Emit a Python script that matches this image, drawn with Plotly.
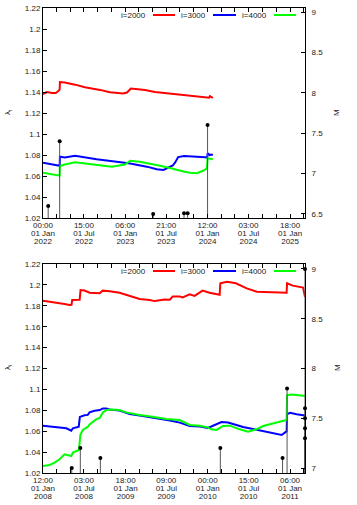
import pandas as pd
import plotly.graph_objects as go

# ---------------- data: top panel (2022-2024) ----------------
top_red_dates = ["2022-01-01", "2022-01-18", "2022-02-10", "2022-02-27", "2022-03-13", "2022-03-16",
                 "2022-03-17", "2022-04-08", "2022-05-23", "2022-07-06", "2022-09-11", "2022-10-25",
                 "2022-12-22", "2023-01-09", "2023-01-26", "2023-03-30", "2023-05-13", "2023-06-26",
                 "2023-08-10", "2023-09-23", "2023-11-07", "2023-12-21", "2024-01-08", "2024-01-12",
                 "2024-01-17", "2024-01-25"]
top_red_vals = [1.138, 1.140, 1.139, 1.139, 1.1415, 1.1425,
                1.1495, 1.149, 1.147, 1.1445, 1.142, 1.1398,
                1.1385, 1.1395, 1.1433, 1.142, 1.140, 1.139,
                1.138, 1.1368, 1.1362, 1.1345, 1.1345, 1.136,
                1.1355, 1.1345]

top_blue_dates = ["2022-01-01", "2022-02-10", "2022-03-16", "2022-03-17", "2022-04-08", "2022-05-23",
                  "2022-08-27", "2022-11-24", "2023-01-23", "2023-04-07", "2023-05-21", "2023-06-20",
                  "2023-07-18", "2023-07-31", "2023-08-10", "2023-08-24", "2023-09-19", "2023-10-15",
                  "2023-11-15", "2023-12-21", "2023-12-31", "2024-01-01 12:00", "2024-01-11", "2024-01-17",
                  "2024-01-25"]
top_blue_vals = [1.0727, 1.0712, 1.0698, 1.0784, 1.0776, 1.0793,
                 1.0759, 1.0736, 1.0720, 1.0689, 1.0664, 1.0657,
                 1.0683, 1.0700, 1.0727, 1.0780, 1.0790, 1.0790,
                 1.0784, 1.0778, 1.0775, 1.0815, 1.0800, 1.0805,
                 1.0800]

top_green_dates = ["2022-01-01", "2022-02-10", "2022-03-16", "2022-03-17", "2022-04-08", "2022-05-23",
                   "2022-07-28", "2022-10-03", "2022-11-03", "2022-12-31", "2023-01-23", "2023-03-06",
                   "2023-04-21", "2023-06-04", "2023-07-18", "2023-08-31", "2023-09-21", "2023-10-15",
                   "2023-11-15", "2023-12-12", "2023-12-30", "2024-01-01 12:00", "2024-01-25"]
top_green_vals = [1.0632, 1.0617, 1.0603, 1.0695, 1.0710, 1.0730,
                  1.0714, 1.0695, 1.0688, 1.0710, 1.0746, 1.0736,
                  1.0718, 1.0698, 1.0676, 1.0657, 1.0641, 1.0630,
                  1.0626, 1.0650, 1.0673, 1.0768, 1.0759]

top_event_dates = ["2022-01-24", "2022-03-16", "2023-05-05", "2023-09-19", "2023-10-05", "2024-01-01 12:00"]
top_event_M = [6.60, 7.40, 6.50, 6.51, 6.51, 7.60]

top_tick_dates = ["2022-01-01 00:00", "2022-07-01 15:00", "2023-01-01 06:00", "2023-07-01 21:00",
                  "2024-01-01 12:00", "2024-07-01 03:00", "2025-01-01 18:00"]
top_tick_time = ["00:00", "15:00", "06:00", "21:00", "12:00", "03:00", "18:00"]
top_tick_day = ["01 Jan", "01 Jul", "01 Jan", "01 Jul", "01 Jan", "01 Jul", "01 Jan"]
top_tick_year = ["2022", "2022", "2023", "2023", "2024", "2024", "2025"]
top_x_range = ["2022-01-01 00:00", "2025-03-09 00:00"]

# ---------------- data: bottom panel (2008-2011) ----------------
bot_red_dates = ["2008-01-01", "2008-01-31", "2008-03-15", "2008-04-06", "2008-04-28", "2008-05-07",
                 "2008-05-10", "2008-06-12", "2008-06-16", "2008-07-04", "2008-07-26", "2008-09-09",
                 "2008-09-22", "2008-10-23", "2008-12-06", "2009-01-20", "2009-03-05", "2009-04-19",
                 "2009-05-11", "2009-06-24", "2009-07-17", "2009-07-30", "2009-08-30", "2009-09-12",
                 "2009-10-13", "2009-11-04", "2009-12-09", "2010-01-09", "2010-02-23", "2010-02-26",
                 "2010-03-28", "2010-05-06", "2010-06-23", "2010-08-07", "2010-09-20", "2010-11-04",
                 "2010-12-17", "2010-12-19", "2011-01-13", "2011-02-28", "2011-03-08 12:00"]
bot_red_vals = [1.1849, 1.1840, 1.1830, 1.1817, 1.1808, 1.1810,
                1.1856, 1.1858, 1.1950, 1.1946, 1.1925, 1.1920,
                1.1945, 1.1940, 1.1925, 1.1894, 1.1865, 1.1856,
                1.1845, 1.1860, 1.1858, 1.1890, 1.1890, 1.1880,
                1.1910, 1.1895, 1.1945, 1.1925, 1.1905, 1.2015,
                1.2030, 1.2016, 1.1967, 1.1935, 1.1930, 1.1925,
                1.1925, 1.2015, 1.1993, 1.1974, 1.1884]

bot_blue_dates = ["2008-01-01", "2008-03-01", "2008-04-14", "2008-05-06", "2008-05-13", "2008-06-08",
                  "2008-06-13", "2008-07-04", "2008-07-18", "2008-07-26", "2008-08-17", "2008-09-09",
                  "2008-09-23", "2008-10-08", "2008-10-23", "2008-12-06", "2009-01-20", "2009-03-05",
                  "2009-04-19", "2009-06-02", "2009-07-17", "2009-08-30", "2009-10-13", "2009-11-27",
                  "2010-01-01", "2010-01-17", "2010-02-09", "2010-03-03", "2010-04-01", "2010-05-01",
                  "2010-06-07", "2010-07-21", "2010-09-04", "2010-10-04", "2010-11-03", "2010-11-25",
                  "2010-12-09", "2010-12-17", "2010-12-19", "2011-01-01", "2011-01-30", "2011-02-28",
                  "2011-03-08 12:00"]
bot_blue_vals = [1.0653, 1.0637, 1.0628, 1.0605, 1.0628, 1.0643,
                 1.0737, 1.0752, 1.0756, 1.0780, 1.0796, 1.0802,
                 1.0818, 1.0818, 1.0808, 1.0797, 1.0765, 1.0750,
                 1.0734, 1.0721, 1.0702, 1.0682, 1.0650, 1.0645,
                 1.0631, 1.0645, 1.0669, 1.0688, 1.0684, 1.0662,
                 1.0640, 1.0621, 1.0599, 1.0583, 1.0573, 1.0564,
                 1.0586, 1.0598, 1.0762, 1.0777, 1.0762, 1.0750,
                 1.0750]

bot_green_dates = ["2008-01-01", "2008-01-31", "2008-02-22", "2008-03-15", "2008-04-06", "2008-04-21",
                   "2008-05-06", "2008-05-13", "2008-06-09", "2008-06-15", "2008-06-26", "2008-07-19",
                   "2008-07-26", "2008-08-24", "2008-09-09", "2008-09-23", "2008-10-08", "2008-10-23",
                   "2008-12-06", "2009-01-04", "2009-03-05", "2009-05-01", "2009-06-30", "2009-08-30",
                   "2009-10-13", "2009-11-27", "2010-01-01", "2010-01-17", "2010-02-09", "2010-03-10",
                   "2010-04-09", "2010-05-23", "2010-06-29", "2010-08-05", "2010-09-04", "2010-10-04",
                   "2010-11-03", "2010-12-09", "2010-12-17", "2010-12-19", "2011-01-08", "2011-02-28",
                   "2011-03-08 12:00"]
bot_green_vals = [1.0267, 1.0277, 1.0299, 1.0331, 1.0379, 1.0373,
                  1.0363, 1.0395, 1.0420, 1.0564, 1.0612, 1.0643,
                  1.0665, 1.0713, 1.0727, 1.0779, 1.0802, 1.0808,
                  1.0802, 1.0780, 1.0755, 1.0739, 1.0717, 1.0707,
                  1.0660, 1.0653, 1.0637, 1.0618, 1.0612, 1.0650,
                  1.0653, 1.0618, 1.0596, 1.0618, 1.0650, 1.0666,
                  1.0682, 1.0701, 1.0707, 1.0945, 1.0951, 1.0939,
                  1.0939]

bot_event_dates = ["2008-05-08", "2008-06-15", "2008-09-12", "2010-02-26", "2010-11-29", "2010-12-19",
                   "2011-03-08 12:00", "2011-03-08 12:00", "2011-03-08 12:00", "2011-03-08 12:00",
                   "2011-03-08 12:00"]
bot_event_M = [7.0, 7.2, 7.1, 7.2, 7.1, 7.8, 7.3, 7.4, 7.5, 7.6, 9.0]

bot_tick_dates = ["2008-01-01 12:00", "2008-07-01 03:00", "2009-01-01 18:00", "2009-07-01 09:00",
                  "2010-01-01 00:00", "2010-07-01 15:00", "2011-01-01 06:00"]
bot_tick_time = ["12:00", "03:00", "18:00", "09:00", "00:00", "15:00", "06:00"]
bot_tick_day = ["01 Jan", "01 Jul", "01 Jan", "01 Jul", "01 Jan", "01 Jul", "01 Jan"]
bot_tick_year = ["2008", "2008", "2009", "2009", "2010", "2010", "2011"]
bot_x_range = ["2008-01-01 12:00", "2011-03-08 12:00"]

series_names = ["i=2000", "i=3000", "i=4000"]
series_colors = ["#ff0000", "#0000ff", "#00ff00"]
lambda_range = [1.02, 1.22]
top_M_range = [6.45, 9.05]
bot_M_range = [6.95, 9.05]


def to_dt(s):
    return pd.to_datetime(s, format="mixed")


# ---------------- figure ----------------
W, H = 357, 505
FONT = "Liberation Sans, Arial, sans-serif"
TXT = "#222222"
x_dom = [43 / W, 305 / W]
top_dom = [1 - 218 / H, 1 - 8 / H]
bot_dom = [1 - 473 / H, 1 - 264 / H]

fig = go.Figure()


def add_panel(xa, ya, ya2, series, ev_dates, ev_M):
    for (dts, vals), name, col in zip(series, series_names, series_colors):
        fig.add_trace(go.Scatter(x=to_dt(dts), y=vals, mode="lines", name=name,
                                 line=dict(color=col, width=2), xaxis=xa, yaxis=ya,
                                 showlegend=False))
    sx, sy = [], []
    for d, m in zip(to_dt(ev_dates), ev_M):
        sx += [d, d, None]
        sy += [0, m, None]
    fig.add_trace(go.Scatter(x=sx, y=sy, mode="lines", line=dict(color="#555555", width=1),
                             xaxis=xa, yaxis=ya2, showlegend=False, hoverinfo="skip"))
    fig.add_trace(go.Scatter(x=to_dt(ev_dates), y=ev_M, mode="markers",
                             marker=dict(color="black", size=4), xaxis=xa, yaxis=ya2,
                             showlegend=False, cliponaxis=False))


add_panel("x", "y", "y2",
          [(top_red_dates, top_red_vals), (top_blue_dates, top_blue_vals),
           (top_green_dates, top_green_vals)], top_event_dates, top_event_M)
add_panel("x2", "y3", "y4",
          [(bot_red_dates, bot_red_vals), (bot_blue_dates, bot_blue_vals),
           (bot_green_dates, bot_green_vals)], bot_event_dates, bot_event_M)

# empty traces so the extra tick-label rows (overlay x axes) are drawn
for xa, ya, rng in (("x3", "y", top_x_range), ("x4", "y", top_x_range),
                    ("x5", "y3", bot_x_range), ("x6", "y3", bot_x_range)):
    fig.add_trace(go.Scatter(x=[to_dt(rng)[0]], y=[None], mode="lines", xaxis=xa, yaxis=ya,
                             showlegend=False, hoverinfo="skip"))


def minor_vals(ticks):
    t = to_dt(ticks)
    out = []
    for i in range(len(t)):
        step = (t[i + 1] - t[i]) if i + 1 < len(t) else (t[i] - t[i - 1])
        out += [t[i] + step / 3, t[i] + 2 * step / 3]
    return out


tickfont = dict(family=FONT, size=8, color=TXT)


def xaxis_cfg(anchor, rng, tv, tt):
    return dict(domain=x_dom, anchor=anchor, type="date", range=list(to_dt(rng)),
                tickmode="array", tickvals=list(to_dt(tv)), ticktext=tt,
                ticks="inside", ticklen=4, tickcolor="black", showline=True, linecolor="black",
                linewidth=1, mirror="allticks", showgrid=False, zeroline=False,
                tickfont=tickfont, tickangle=0, automargin=False, ticklabelstandoff=-1,
                minor=dict(tickmode="array", tickvals=minor_vals(tv), ticks="inside",
                           ticklen=2, tickcolor="black", showgrid=False))


def xlabel_row_cfg(over, anchor, rng, tv, tt, standoff):
    # extra label rows for the stacked (time / day / year) tick labels
    return dict(overlaying=over, anchor=anchor, side="bottom", type="date",
                range=list(to_dt(rng)), tickmode="array", tickvals=list(to_dt(tv)),
                ticktext=tt, ticks="", showline=False, showgrid=False, zeroline=False,
                tickfont=tickfont, tickangle=0, automargin=False,
                ticklabelstandoff=standoff)


def yleft_cfg(anchor, dom):
    return dict(domain=dom, anchor=anchor, range=lambda_range, tickmode="linear",
                tick0=1.02, dtick=0.02, ticks="inside", ticklen=4, tickcolor="black",
                showline=True, linecolor="black", linewidth=1, mirror=False, showgrid=False,
                zeroline=False, tickfont=tickfont, automargin=False)


def yright_cfg(anchor, over, rng):
    return dict(overlaying=over, side="right", anchor=anchor, range=rng, tickmode="linear",
                tick0=6.5, dtick=0.5, ticks="inside", ticklen=4, tickcolor="black",
                showline=True, linecolor="black", linewidth=1, showgrid=False, zeroline=False,
                tickfont=tickfont, automargin=False, ticklabelstandoff=4)


fig.update_layout(
    width=W, height=H, margin=dict(l=0, r=0, t=0, b=0),
    paper_bgcolor="white", plot_bgcolor="white",
    font=dict(family=FONT, size=8, color=TXT),
    xaxis=xaxis_cfg("y", top_x_range, top_tick_dates, top_tick_time),
    xaxis2=xaxis_cfg("y3", bot_x_range, bot_tick_dates, bot_tick_time),
    xaxis3=xlabel_row_cfg("x", "y", top_x_range, top_tick_dates, top_tick_day, 9),
    xaxis4=xlabel_row_cfg("x", "y", top_x_range, top_tick_dates, top_tick_year, 17),
    xaxis5=xlabel_row_cfg("x2", "y3", bot_x_range, bot_tick_dates, bot_tick_day, 9),
    xaxis6=xlabel_row_cfg("x2", "y3", bot_x_range, bot_tick_dates, bot_tick_year, 17),
    yaxis=yleft_cfg("x", top_dom),
    yaxis2=yright_cfg("x", "y", top_M_range),
    yaxis3=yleft_cfg("x2", bot_dom),
    yaxis4=yright_cfg("x2", "y3", bot_M_range),
    showlegend=False,
)

# gnuplot-style key (text then line sample) and axis titles
key_text_right = [148, 208, 269]
key_line = [(153, 175), (213, 236), (274, 296)]
for key_y in (15, 271):
    for name, col, tx, (l0, l1) in zip(series_names, series_colors, key_text_right, key_line):
        fig.add_annotation(x=tx / W, y=1 - key_y / H, xref="paper", yref="paper", text=name,
                           showarrow=False, xanchor="right", yanchor="middle",
                           font=dict(family=FONT, size=8, color=TXT))
        fig.add_shape(type="line", xref="paper", yref="paper", x0=l0 / W, x1=l1 / W,
                      y0=1 - key_y / H, y1=1 - key_y / H, line=dict(color=col, width=2))

for cy in (113, 368):
    fig.add_annotation(x=8 / W, y=1 - cy / H, xref="paper", yref="paper", text="λ<sub>i</sub>",
                       showarrow=False, textangle=-90, xanchor="center", yanchor="middle",
                       font=dict(family=FONT, size=8, color=TXT))
    fig.add_annotation(x=337 / W, y=1 - cy / H, xref="paper", yref="paper", text="M",
                       showarrow=False, textangle=-90, xanchor="center", yanchor="middle",
                       font=dict(family=FONT, size=8, color=TXT))

fig.write_html("out.html", config={"displayModeBar": False},
               post_script="document.body.style.margin='0px';")
